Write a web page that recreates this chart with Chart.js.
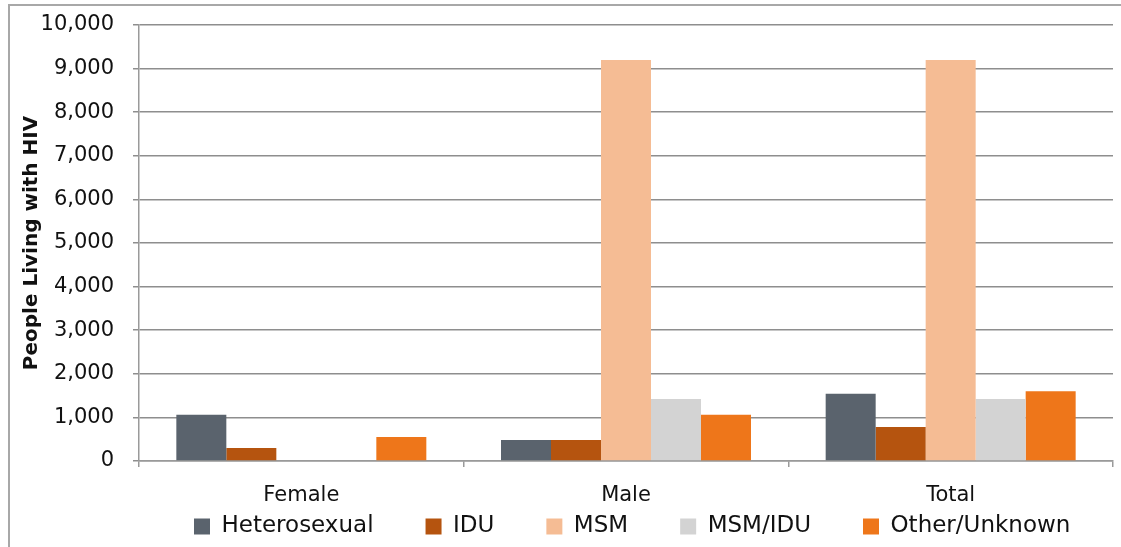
<!DOCTYPE html>
<html>
<head>
<meta charset="utf-8">
<script src="https://cdn.jsdelivr.net/npm/chart.js@4"></script>
<style>
  html, body { margin: 0; padding: 0; background: #fff; }
  #wrap { position: relative; width: 1121px; height: 547px; overflow: hidden; }
  #frame { position: absolute; left: 8px; top: 4px; width: 1130px; height: 560px; border-top: 2px solid #a8a8a8; border-left: 2px solid #a8a8a8; pointer-events: none; }
  canvas { position: absolute; left: 0; top: 0; }
</style>
</head>
<body>
<div id="wrap">
  <canvas id="c" width="1121" height="547"></canvas>
  <div id="frame"></div>
</div>
<script>
const categories = ["Female", "Male", "Total"];
const seriesNames = ["Heterosexual", "IDU", "MSM", "MSM/IDU", "Other/Unknown"];
const heterosexual = [1060, 480, 1540];
const idu = [300, 480, 780];
const msm = [0, 9200, 9200];
const msmIdu = [0, 1420, 1420];
const otherUnknown = [550, 1060, 1600];
const yTicks = [0, 1000, 2000, 3000, 4000, 5000, 6000, 7000, 8000, 9000, 10000];
const colors = ["#5a636d", "#b5540f", "#f5bc94", "#d3d3d3", "#ee761a"];

const seriesValues = [heterosexual, idu, msm, msmIdu, otherUnknown];

const FONT = "'DejaVu Sans', sans-serif";

// places the legend row below the category labels like the original
const legendShift = {
  id: 'legendShift',
  afterLayout(chart) {
    const lg = chart.legend;
    if (!lg) return;
    lg.left = 142;
    lg.right = 142 + 1000;
    lg.top = 463;
    lg.bottom = 547;
  }
};

new Chart(document.getElementById('c'), {
  type: 'bar',
  data: {
    labels: categories,
    datasets: seriesNames.map((n, i) => ({
      label: n,
      data: seriesValues[i],
      backgroundColor: colors[i],
      borderWidth: 0,
      barPercentage: 1.0,
      categoryPercentage: 0.77
    }))
  },
  plugins: [legendShift],
  options: {
    responsive: false,
    animation: false,
    layout: { padding: { left: 0, right: 8, top: 25, bottom: 0 } },
    plugins: {
      legend: {
        position: 'bottom',
        align: 'start',
        maxHeight: 36,
        labels: {
          boxWidth: 16, boxHeight: 16,
          color: '#111',
          padding: 52,
          font: { family: FONT, size: 23 }
        }
      },
      tooltip: { enabled: false }
    },
    scales: {
      x: {
        offset: true,
        grid: { display: true, offset: true, drawOnChartArea: false, drawTicks: true, tickLength: 6, color: '#9a9a9a', lineWidth: 1.5 },
        border: { display: true, color: '#9a9a9a', width: 1.5 },
        ticks: { color: '#111', font: { family: FONT, size: 21 }, padding: 16 },
        afterFit: (s) => { s.height = 50; }
      },
      y: {
        min: 0, max: 10000,
        afterBuildTicks: (s) => { s.ticks = yTicks.map(v => ({ value: v })); },
        grid: { color: '#8e8e8e', lineWidth: 1.5, tickLength: 6, drawTicks: true },
        border: { display: true, color: '#9a9a9a', width: 1.5 },
        ticks: {
          color: '#111',
          font: { family: FONT, size: 21 },
          padding: 19,
          callback: (v) => Number(v).toLocaleString('en-US')
        },
        title: {
          display: true,
          text: 'People Living with HIV',
          color: '#111',
          font: { family: FONT, size: 20, weight: 'bold' },
          padding: { top: 20, bottom: 0 }
        },
        afterFit: (s) => { s.width = 139; s.paddingTop = 12; s.paddingBottom = 12; }
      }
    }
  }
});
</script>
</body>
</html>
